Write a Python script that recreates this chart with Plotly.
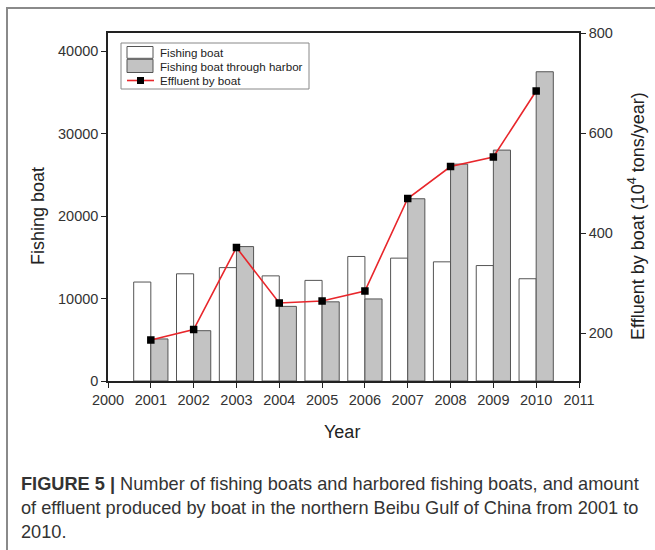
import plotly.graph_objects as go

# Data
years = [2001, 2002, 2003, 2004, 2005, 2006, 2007, 2008, 2009, 2010]
fishing_boat = [12000, 13000, 13750, 12750, 12200, 15100, 14900, 14450, 14000, 12400]
boat_through_harbor = [5100, 6100, 16300, 9050, 9600, 9950, 22100, 26300, 28000, 37500]
effluent = [186, 207, 371, 260, 264, 284, 469, 533, 552, 684]

x_ticks = list(range(2000, 2012))
left_ticks = [0, 10000, 20000, 30000, 40000]
right_ticks = [200, 400, 600, 800]

series_names = ["Fishing boat", "Fishing boat through harbor", "Effluent by boat"]

FONT = "Liberation Sans, Arial, sans-serif"
W, H = 655, 550
L, R, T, B = 108, 76, 33, 169
PW, PH = W - L - R, H - T - B

WHITE_FILL, GRAY_FILL, EDGE = "white", "#c3c3c3", "#555555"
RED = "#e8262b"


def px(x):
    return (x - L) / PW


def py(y):
    return (H - B - y) / PH


fig = go.Figure()

fig.add_trace(go.Bar(
    x=years, y=fishing_boat, name=series_names[0],
    offset=-0.4, width=0.4,
    marker=dict(color=WHITE_FILL, line=dict(color=EDGE, width=1)),
))
fig.add_trace(go.Bar(
    x=years, y=boat_through_harbor, name=series_names[1],
    offset=0.0, width=0.4,
    marker=dict(color=GRAY_FILL, line=dict(color=EDGE, width=1)),
))
fig.add_trace(go.Scatter(
    x=years, y=effluent, name=series_names[2], yaxis="y2",
    mode="lines+markers",
    line=dict(color=RED, width=1.6),
    marker=dict(symbol="square", size=7.5, color="black"),
))

axis_common = dict(
    showgrid=False, zeroline=False, showline=True, linecolor="#222222",
    linewidth=1.5, ticks="outside", ticklen=5, tickwidth=1.3,
    tickcolor="#222222", tickfont=dict(family=FONT, size=14.5, color="#333333"),
)

fig.update_layout(
    width=W, height=H,
    margin=dict(l=L, r=R, t=T, b=B),
    paper_bgcolor="white", plot_bgcolor="white",
    barmode="overlay",
    showlegend=False,
    xaxis=dict(range=[2000, 2011], tickvals=x_ticks, mirror=True, **axis_common),
    yaxis=dict(range=[0, 42200], tickvals=left_ticks, tickformat="d", **axis_common),
    yaxis2=dict(range=[104, 800], tickvals=right_ticks, overlaying="y",
                side="right", tickformat="d", **axis_common),
)

annotations = [
    dict(text="Fishing boat", x=px(38), y=py(216), textangle=-90,
         font=dict(family=FONT, size=18, color="#222222")),
    dict(text="Year", x=px(342), y=py(432),
         font=dict(family=FONT, size=18, color="#222222")),
    dict(text="Effluent by boat (10<sup>4</sup> tons/year)", x=px(636), y=py(216),
         textangle=-90, font=dict(family=FONT, size=18, color="#222222")),
]
caption = [
    ("<b>FIGURE 5 |</b> Number of fishing boats and harbored fishing boats, and amount", 484),
    ("of effluent produced by boat in the northern Beibu Gulf of China from 2001 to", 508),
    ("2010.", 532),
]
for txt, yy in caption:
    annotations.append(dict(text=txt, x=px(19), y=py(yy), xanchor="left",
                            font=dict(family=FONT, size=18.2, color="#333333")))

# Legend box drawn in the upper-left corner of the plot
legend_rows = [52, 66, 80.5]
for name, yy in zip(series_names, legend_rows):
    annotations.append(dict(text=name, x=px(158), y=py(yy), xanchor="left",
                            font=dict(family=FONT, size=11.6, color="#222222")))
for a in annotations:
    a.update(xref="paper", yref="paper", showarrow=False)
    a.setdefault("xanchor", "center")
    a.setdefault("yanchor", "middle")
fig.update_layout(annotations=annotations)

shapes = [
    # legend frame
    dict(type="rect", x0=px(121), x1=px(309), y0=py(43), y1=py(89),
         line=dict(color="#888888", width=1), fillcolor="white"),
    # legend samples
    dict(type="rect", x0=px(127), x1=px(153), y0=py(46.5), y1=py(58.3),
         line=dict(color=EDGE, width=1), fillcolor=WHITE_FILL),
    dict(type="rect", x0=px(127), x1=px(153), y0=py(59.3), y1=py(72.5),
         line=dict(color=EDGE, width=1), fillcolor=GRAY_FILL),
    dict(type="line", x0=px(127), x1=px(154), y0=py(80.5), y1=py(80.5),
         line=dict(color=RED, width=1.6)),
    dict(type="rect", x0=px(137), x1=px(144), y0=py(77), y1=py(84),
         line=dict(color="black", width=0), fillcolor="black"),
    # frame around the figure panel
    dict(type="line", x0=px(6), x1=px(655), y0=py(8), y1=py(8),
         line=dict(color="#8a8a8a", width=2)),
    dict(type="line", x0=px(7), x1=px(7), y0=py(8), y1=py(550),
         line=dict(color="#8a8a8a", width=2)),
]
for s in shapes:
    s.update(xref="paper", yref="paper", layer="above")
fig.update_layout(shapes=shapes)

fig.write_html("out.html")
